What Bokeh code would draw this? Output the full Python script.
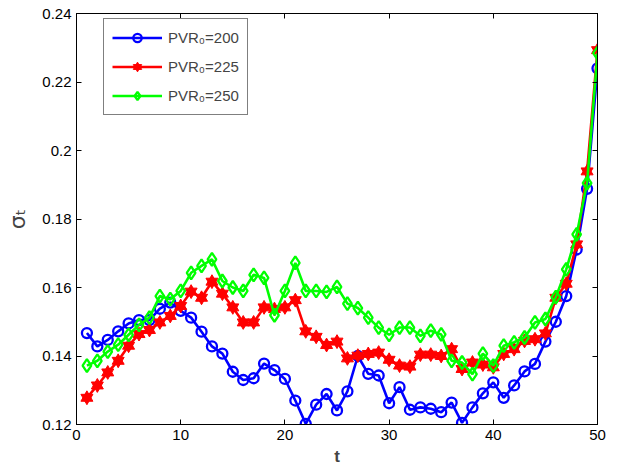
from bokeh.plotting import figure
from bokeh.models import LinearAxis, FixedTicker, Legend, LegendItem, Range1d
from bokeh.embed import file_html
from bokeh.resources import INLINE

t = list(range(1, 51))

pvr200 = [0.1467, 0.1428, 0.1447, 0.1472, 0.1495, 0.1505, 0.1505, 0.1538, 0.1556, 0.1532,
          0.1512, 0.1471, 0.1428, 0.1407, 0.1354, 0.1330, 0.1335, 0.1378, 0.1359, 0.1333,
          0.1270, 0.1202, 0.1258, 0.1289, 0.1241, 0.1297, 0.1400, 0.1348, 0.1343, 0.1262,
          0.1309, 0.1243, 0.1250, 0.1246, 0.1236, 0.1264, 0.1205, 0.1250, 0.1291, 0.1323,
          0.1278, 0.1314, 0.1355, 0.1377, 0.1442, 0.1500, 0.1575, 0.1711, 0.1888, 0.2240]

pvr225 = [0.1278, 0.1314, 0.1352, 0.1386, 0.1430, 0.1464, 0.1476, 0.1498, 0.1517, 0.1546,
          0.1588, 0.1570, 0.1617, 0.1582, 0.1542, 0.1498, 0.1498, 0.1542, 0.1537, 0.1542,
          0.1563, 0.1472, 0.1456, 0.1432, 0.1442, 0.1393, 0.1401, 0.1406, 0.1410, 0.1389,
          0.1372, 0.1369, 0.1404, 0.1404, 0.1400, 0.1420, 0.1362, 0.1381, 0.1375, 0.1367,
          0.1406, 0.1420, 0.1444, 0.1449, 0.1466, 0.1570, 0.1611, 0.1726, 0.1939, 0.2293]

pvr250 = [0.1372, 0.1386, 0.1413, 0.1433, 0.1462, 0.1491, 0.1512, 0.1575, 0.1566, 0.1590,
          0.1643, 0.1663, 0.1682, 0.1619, 0.1600, 0.1590, 0.1637, 0.1628, 0.1519, 0.1590,
          0.1672, 0.1590, 0.1590, 0.1587, 0.1602, 0.1553, 0.1540, 0.1512, 0.1483, 0.1462,
          0.1483, 0.1483, 0.1459, 0.1474, 0.1463, 0.1386, 0.1381, 0.1347, 0.1407, 0.1372,
          0.1430, 0.1440, 0.1454, 0.1498, 0.1508, 0.1572, 0.1653, 0.1755, 0.1905, 0.2284]

labels = ["PVR\u2080=200", "PVR\u2080=225", "PVR\u2080=250"]
x_ticks = [0, 10, 20, 30, 40, 50]
y_ticks = [0.12, 0.14, 0.16, 0.18, 0.20, 0.22, 0.24]
y_tick_labels = {0.12: "0.12", 0.14: "0.14", 0.16: "0.16", 0.18: "0.18",
                 0.2: "0.2", 0.22: "0.22", 0.24: "0.24"}

FONT = "Liberation Sans"

p = figure(width=620, height=468, output_backend="svg", toolbar_location=None,
           x_range=Range1d(0, 50), y_range=Range1d(0.12, 0.24),
           min_border_left=76, min_border_right=23, min_border_top=13, min_border_bottom=44)
p.xgrid.visible = False
p.ygrid.visible = False
p.outline_line_color = "black"
p.outline_line_width = 1
p.background_fill_color = "white"
p.border_fill_color = "white"

def style_axis(ax):
    ax.major_tick_in = 5
    ax.major_tick_out = 0
    ax.minor_tick_line_color = None
    ax.axis_line_color = "black"
    ax.major_tick_line_color = "black"
    ax.major_label_text_font = FONT
    ax.major_label_text_font_size = "15px"
    ax.major_label_text_color = "black"
    ax.major_label_standoff = 5

p.xaxis.ticker = FixedTicker(ticks=x_ticks)
p.yaxis.ticker = FixedTicker(ticks=y_ticks)
p.yaxis.major_label_overrides = y_tick_labels
style_axis(p.xaxis[0])
style_axis(p.yaxis[0])
p.xaxis.axis_label = "t"
p.xaxis.axis_label_text_font = FONT
p.xaxis.axis_label_text_font_style = "bold"
p.xaxis.axis_label_text_font_size = "17px"
p.xaxis.axis_label_standoff = 4
p.yaxis.axis_label = "\u03c3\u209c"
p.yaxis.axis_label_text_font = "DejaVu Sans"
p.yaxis.axis_label_text_font_style = "normal"
p.yaxis.axis_label_text_font_size = "22px"
p.yaxis.axis_label_standoff = 9

top = LinearAxis(ticker=FixedTicker(ticks=x_ticks),
                 major_label_overrides={v: "" for v in x_ticks})
style_axis(top)
p.add_layout(top, "above")
right = LinearAxis(ticker=FixedTicker(ticks=y_ticks),
                   major_label_overrides={v: "" for v in y_ticks})
style_axis(right)
p.add_layout(right, "right")

BLUE = "#0000ff"
RED = "#ff0000"
GREEN = "#00ff00"

l1 = p.line(t, pvr200, line_color=BLUE, line_width=2.6)
m1 = p.scatter(t, pvr200, marker="circle", size=10, line_color=BLUE, line_width=2.3,
               fill_color=None)
l2 = p.line(t, pvr225, line_color=RED, line_width=2.6)
m2a = p.scatter(t, pvr225, marker="triangle", size=12, line_color=RED, line_width=1,
                fill_color=RED)
m2b = p.scatter(t, pvr225, marker="inverted_triangle", size=12, line_color=RED, line_width=1,
                fill_color=RED)
l3 = p.line(t, pvr250, line_color=GREEN, line_width=2.6)
m3 = p.scatter(t, pvr250, marker="diamond", size=13, line_color=GREEN, line_width=2.3,
               fill_color=None)

legend = Legend(items=[LegendItem(label=labels[0], renderers=[l1, m1]),
                       LegendItem(label=labels[1], renderers=[l2, m2a, m2b]),
                       LegendItem(label=labels[2], renderers=[l3, m3])],
                location=(27, 309))
legend.glyph_width = 50
legend.glyph_height = 21
legend.spacing = 8
legend.padding = 8
legend.label_standoff = 6
legend.margin = 0
legend.label_text_font = FONT
legend.label_text_font_size = "15px"
legend.border_line_color = "black"
legend.border_line_width = 1
legend.background_fill_color = "white"
legend.background_fill_alpha = 1
p.add_layout(legend)

open("out.html", "w").write(file_html(p, INLINE))
